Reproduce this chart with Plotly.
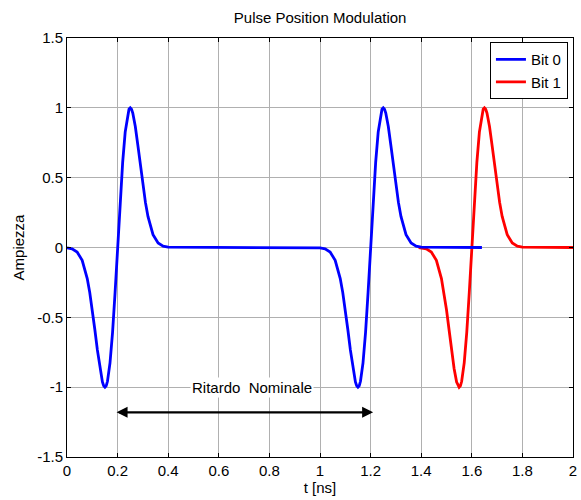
import plotly.graph_objects as go

# pulse shape: offsets (ns) from pulse centre and amplitudes
PULSE_OFFSET = [-0.20, -0.18, -0.16, -0.14, -0.12, -0.11, -0.10, -0.09, -0.08, -0.07,
                -0.06, -0.055, -0.05, -0.045, -0.04, -0.03, -0.02, -0.01, 0.00,
                0.01, 0.02, 0.03, 0.04, 0.045, 0.05, 0.055, 0.06, 0.07, 0.08,
                0.09, 0.10, 0.11, 0.12, 0.14, 0.16, 0.18, 0.20]
PULSE_AMP = [-0.002, -0.009, -0.032, -0.092, -0.222, -0.323, -0.446, -0.587, -0.733, -0.866,
             -0.963, -0.990, -1.000, -0.990, -0.958, -0.826, -0.609, -0.323, 0.0,
             0.323, 0.609, 0.826, 0.958, 0.990, 1.000, 0.990, 0.963, 0.866, 0.733,
             0.587, 0.446, 0.323, 0.222, 0.092, 0.032, 0.009, 0.002]

BIT0_CENTRES = [0.2, 1.2]
BIT0_SPAN = [0.0, 1.64]
BIT1_CENTRES = [1.6]
BIT1_SPAN = [1.39, 2.0]

X_TICKS = [0, 0.2, 0.4, 0.6, 0.8, 1, 1.2, 1.4, 1.6, 1.8, 2]
X_TICK_TEXT = ["0", "0.2", "0.4", "0.6", "0.8", "1", "1.2", "1.4", "1.6", "1.8", "2"]
Y_TICKS = [-1.5, -1, -0.5, 0, 0.5, 1, 1.5]
Y_TICK_TEXT = ["-1.5", "-1", "-0.5", "0", "0.5", "1", "1.5"]

DELAY_START, DELAY_END, DELAY_LEVEL = 0.19, 1.21, -1.18
DELAY_LABEL = "Ritardo  Nominale"
LABEL_X, LABEL_Y = 0.73, -1.0

FS = 15


def build(centres, span):
    t, y = [span[0]], [0.0]
    for c in centres:
        for o, a in zip(PULSE_OFFSET, PULSE_AMP):
            t.append(round(c + o, 4))
            y.append(a)
    t.append(span[1])
    y.append(0.0)
    return t, y


t0, y0 = build(BIT0_CENTRES, BIT0_SPAN)
t1, y1 = build(BIT1_CENTRES, BIT1_SPAN)

fig = go.Figure()
fig.add_trace(go.Scatter(x=t1, y=y1, mode="lines", name="Bit 1",
                         line=dict(color="#ff0000", width=2.8), legendrank=2))
fig.add_trace(go.Scatter(x=t0, y=y0, mode="lines", name="Bit 0",
                         line=dict(color="#0000ff", width=2.8), legendrank=1))

fig.add_annotation(x=DELAY_END, y=DELAY_LEVEL, ax=DELAY_START, ay=DELAY_LEVEL,
                   xref="x", yref="y", axref="x", ayref="y", text="",
                   showarrow=True, arrowhead=2, arrowside="end+start",
                   arrowwidth=2.2, arrowsize=1, arrowcolor="black")
fig.add_annotation(x=LABEL_X, y=LABEL_Y, xref="x", yref="y",
                   text=DELAY_LABEL, showarrow=False, bgcolor="white",
                   font=dict(size=FS, color="black"))

axis_common = dict(showline=True, linecolor="black", linewidth=1, mirror="ticks",
                   ticks="inside", ticklen=4, tickcolor="black",
                   showgrid=True, gridcolor="#b0b0b0", gridwidth=1,
                   zeroline=False, tickfont=dict(size=FS, color="black"))

fig.update_xaxes(range=[0, 2], tickvals=X_TICKS, ticktext=X_TICK_TEXT,
                 ticklabeloverflow="allow",
                 title=dict(text="t [ns]", font=dict(size=FS, color="black"), standoff=4),
                 **axis_common)
fig.update_yaxes(range=[-1.5, 1.5], tickvals=Y_TICKS, ticktext=Y_TICK_TEXT,
                 title=dict(text="Ampiezza", font=dict(size=FS, color="black"), standoff=8),
                 **axis_common)

fig.update_layout(
    width=581, height=500,
    margin=dict(l=67, r=4, t=38, b=43),
    paper_bgcolor="white", plot_bgcolor="white",
    font=dict(family="Liberation Sans, Arial, sans-serif", size=FS, color="black"),
    title=dict(text="Pulse Position Modulation", x=0.551, xanchor="center",
               y=0.964, yanchor="middle", font=dict(size=FS, color="black")),
    legend=dict(x=0.99, xanchor="right", y=0.99, yanchor="top",
                bgcolor="white", bordercolor="black", borderwidth=1,
                font=dict(size=FS, color="black"), tracegroupgap=0),
    showlegend=True,
)

fig.write_html("out.html")
